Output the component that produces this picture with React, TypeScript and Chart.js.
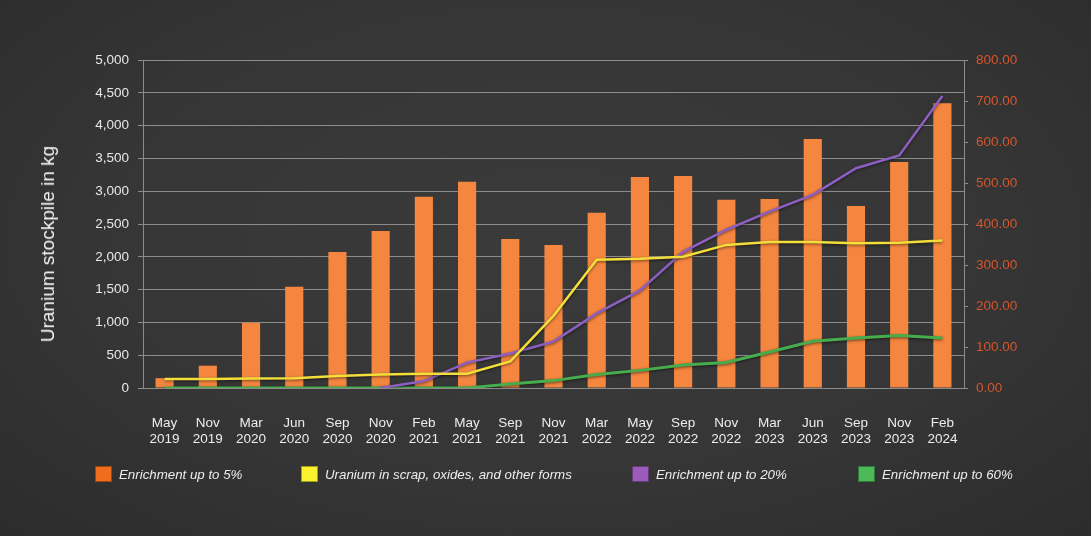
import React, { useEffect, useRef } from "react";
import { Chart, registerables } from "chart.js";

Chart.register(...registerables);

const months = ["May", "Nov", "Mar", "Jun", "Sep", "Nov", "Feb", "May", "Sep", "Nov", "Mar", "May", "Sep", "Nov", "Mar", "Jun", "Sep", "Nov", "Feb"];
const years = ["2019", "2019", "2020", "2020", "2020", "2020", "2021", "2021", "2021", "2021", "2022", "2022", "2022", "2022", "2023", "2023", "2023", "2023", "2024"];

const enrich5 = [150, 340, 995, 1545, 2075, 2395, 2915, 3145, 2270, 2180, 2670, 3215, 3230, 2870, 2880, 3795, 2775, 3445, 4340];
const scrap = [22, 22, 23, 24, 29, 33, 35, 35, 65, 176, 313, 315, 320, 349, 356, 356, 353, 354, 360];
const enrich20 = [null, null, null, null, null, 0, 17, 62, 84, 113, 182, 238, 332, 386, 430, 471, 536, 567, 712];
const enrich60 = [0, 0, 0, 0, 0, 0, 0, 0, 10, 18, 33, 43, 56, 62, 88, 114, 122, 128, 122];

const leftTicks = { min: 0, max: 5000, step: 500 };
const rightTicks = { min: 0, max: 800, step: 100 };

const legendItems = [
  { label: "Enrichment up to 5%", color: "#ef6d1f", left: 95 },
  { label: "Uranium in scrap, oxides, and other forms", color: "#fbf22e", left: 301 },
  { label: "Enrichment up to 20%", color: "#9a5cb8", left: 632 },
  { label: "Enrichment up to 60%", color: "#4cba58", left: 858 },
];

const FONT = 'Helvetica, Arial, "Liberation Sans", sans-serif';

const shadowPlugin = {
  id: "lineShadow",
  beforeDatasetDraw(chart: any, args: any) {
    const ds = chart.data.datasets[args.index];
    if (ds.type === "line") {
      const ctx = chart.ctx;
      ctx.save();
      ctx.shadowColor = "rgba(0,0,0,0.55)";
      ctx.shadowBlur = 3;
      ctx.shadowOffsetY = 1;
    }
  },
  afterDatasetDraw(chart: any, args: any) {
    const ds = chart.data.datasets[args.index];
    if (ds.type === "line") chart.ctx.restore();
  },
};

export default function App() {
  const ref = useRef<HTMLCanvasElement>(null);

  useEffect(() => {
    document.body.style.margin = "0";
    const labels = months.map((m, i) => [m, years[i]]);
    const chart = new Chart(ref.current as HTMLCanvasElement, {
      type: "bar",
      data: {
        labels,
        datasets: [
          {
            type: "bar",
            label: legendItems[0].label,
            data: enrich5,
            backgroundColor: "#f5863f",
            yAxisID: "y",
            order: 10,
            barPercentage: 0.84,
            categoryPercentage: 0.5,
          },
          {
            type: "line",
            label: legendItems[1].label,
            data: scrap,
            borderColor: "#f3de3a",
            borderWidth: 2.5,
            pointRadius: 0,
            tension: 0,
            yAxisID: "y1",
            order: 0,
          },
          {
            type: "line",
            label: legendItems[2].label,
            data: enrich20,
            borderColor: "#8d5fc2",
            borderWidth: 2.5,
            pointRadius: 0,
            tension: 0,
            yAxisID: "y1",
            order: 0,
          },
          {
            type: "line",
            label: legendItems[3].label,
            data: enrich60,
            borderColor: "#47ad4c",
            borderWidth: 3,
            pointRadius: 0,
            tension: 0,
            yAxisID: "y1",
            order: 0,
          },
        ] as any,
      },
      options: {
        animation: false,
        responsive: true,
        maintainAspectRatio: false,
        layout: { padding: { top: 60, left: 0, right: 0, bottom: 0 } },
        plugins: { legend: { display: false }, tooltip: { enabled: false } },
        scales: {
          x: {
            grid: { display: false, drawTicks: false },
            border: { display: false },
            ticks: { color: "#ececec", font: { family: FONT, size: 13.5, lineHeight: 1.2 }, padding: 27, maxRotation: 0, autoSkip: false },
            afterFit: (s: any) => { s.height = 148; },
          },
          y: {
            position: "left",
            min: leftTicks.min,
            max: leftTicks.max,
            ticks: {
              stepSize: leftTicks.step,
              color: "#e8e8e8",
              font: { family: FONT, size: 13.5 },
              padding: 9,
              callback: (v: any) => Number(v).toLocaleString("en-US"),
            },
            grid: { color: "#8c8c8c", lineWidth: 1, tickLength: 5 },
            border: { display: true, color: "#8c8c8c" },
            afterFit: (s: any) => { s.width = 143; },
          },
          y1: {
            position: "right",
            min: rightTicks.min,
            max: rightTicks.max,
            ticks: {
              stepSize: rightTicks.step,
              color: "#d6552b",
              font: { family: FONT, size: 13.5 },
              padding: 8,
              callback: (v: any) => Number(v).toFixed(2),
            },
            grid: { drawOnChartArea: false, color: "#8c8c8c", tickLength: 4 },
            border: { display: true, color: "#8c8c8c" },
            afterFit: (s: any) => { s.width = 127; },
          },
        },
      } as any,
      plugins: [shadowPlugin],
    });
    return () => chart.destroy();
  }, []);

  return (
    <div
      style={{
        position: "relative",
        width: 1091,
        height: 536,
        background: "radial-gradient(ellipse at 50% 45%, #3a3a3a 0%, #363636 55%, #2c2c2c 100%)",
        fontFamily: FONT,
        overflow: "hidden",
      }}
    >
      <canvas ref={ref} width={1091} height={536} />
      <div
        style={{
          position: "absolute",
          left: 48,
          top: 244,
          transform: "translate(-50%, -50%) rotate(-90deg)",
          whiteSpace: "nowrap",
          color: "#f2f2f2",
          fontSize: 19,
        }}
      >
        Uranium stockpile in kg
      </div>
      {legendItems.map((it) => (
        <div
          key={it.label}
          style={{
            position: "absolute",
            left: it.left,
            top: 466,
            display: "flex",
            alignItems: "center",
            whiteSpace: "nowrap",
          }}
        >
          <span
            style={{
              display: "inline-block",
              width: 15,
              height: 14,
              background: it.color,
              border: "1px solid rgba(0,0,0,0.35)",
              marginRight: 7,
            }}
          />
          <span style={{ color: "#ededed", fontStyle: "italic", fontSize: 13.3 }}>{it.label}</span>
        </div>
      ))}
    </div>
  );
}
